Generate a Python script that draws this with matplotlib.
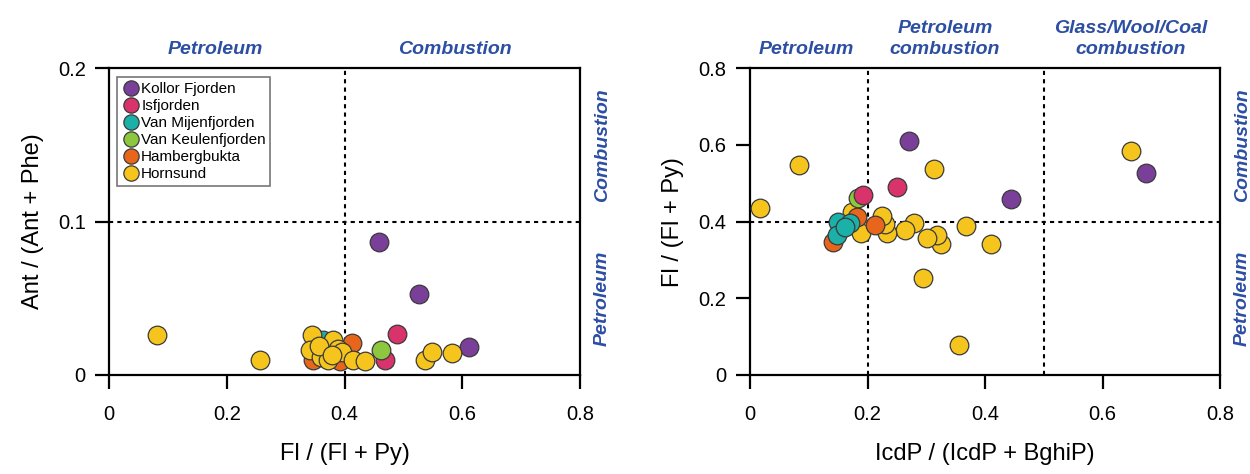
import matplotlib.pyplot as plt
from matplotlib.lines import Line2D

plt.rcParams['font.family'] = ['Liberation Sans', 'DejaVu Sans']

sites = ['Kollor Fjorden', 'Isfjorden', 'Van Mijenfjorden', 'Van Keulenfjorden',
         'Hambergbukta', 'Hornsund']
colors = ['#7a3f99', '#d8336b', '#1bb0a8', '#8dc63f', '#e8661c', '#f6c51d']

# left panel: Fl/(Fl+Py) vs Ant/(Ant+Phe)
left_x = {
    'Kollor Fjorden': [0.458, 0.527, 0.611],
    'Isfjorden': [0.489, 0.469],
    'Van Mijenfjorden': [0.364],
    'Van Keulenfjorden': [0.462],
    'Hambergbukta': [0.412, 0.347, 0.392],
    'Hornsund': [0.081, 0.256, 0.536, 0.549, 0.582, 0.344, 0.381, 0.341, 0.360,
                 0.372, 0.389, 0.396, 0.415, 0.435, 0.356, 0.378],
}
left_y = {
    'Kollor Fjorden': [0.087, 0.053, 0.018],
    'Isfjorden': [0.027, 0.010],
    'Van Mijenfjorden': [0.023],
    'Van Keulenfjorden': [0.016],
    'Hambergbukta': [0.021, 0.010, 0.009],
    'Hornsund': [0.026, 0.010, 0.010, 0.015, 0.014, 0.026, 0.023, 0.016, 0.012,
                 0.010, 0.017, 0.015, 0.010, 0.009, 0.019, 0.013],
}

# right panel: IcdP/(IcdP+BghiP) vs Fl/(Fl+Py)
right_x = {
    'Kollor Fjorden': [0.271, 0.445, 0.674],
    'Isfjorden': [0.250, 0.192],
    'Van Mijenfjorden': [0.150, 0.170, 0.148, 0.162],
    'Van Keulenfjorden': [0.183],
    'Hambergbukta': [0.212, 0.182, 0.141],
    'Hornsund': [0.648, 0.084, 0.017, 0.314, 0.368, 0.411, 0.295, 0.355, 0.325,
                 0.318, 0.301, 0.279, 0.263, 0.233, 0.230, 0.224, 0.189, 0.174],
}
right_y = {
    'Kollor Fjorden': [0.611, 0.458, 0.528],
    'Isfjorden': [0.490, 0.470],
    'Van Mijenfjorden': [0.400, 0.396, 0.365, 0.386],
    'Van Keulenfjorden': [0.461],
    'Hambergbukta': [0.391, 0.413, 0.348],
    'Hornsund': [0.584, 0.548, 0.435, 0.537, 0.389, 0.342, 0.254, 0.077, 0.341,
                 0.365, 0.357, 0.397, 0.378, 0.371, 0.394, 0.415, 0.371, 0.424],
}

left_order = ['Kollor Fjorden', 'Isfjorden', 'Hambergbukta', 'Van Mijenfjorden',
              'Van Keulenfjorden', 'Hornsund']
right_order = ['Hornsund', 'Hambergbukta', 'Van Mijenfjorden', 'Van Keulenfjorden',
               'Isfjorden', 'Kollor Fjorden']

blue = '#2c4ea3'
lab_font = dict(color=blue, fontsize=14, fontweight='bold', fontstyle='italic')

fig = plt.figure(figsize=(12.5, 4.74), dpi=100)
ax1 = fig.add_axes([0.0874, 0.209, 0.3766, 0.647])
ax2 = fig.add_axes([0.600, 0.209, 0.376, 0.647])


def scatter(ax, xs, ys, order):
    for i, s in enumerate(order):
        c = colors[sites.index(s)]
        ax.scatter(xs[s], ys[s], s=180, c=c, edgecolors='#3a3a3a', linewidths=0.9,
                   zorder=3 + i)


def style(ax):
    for sp in ax.spines.values():
        sp.set_linewidth(1.6)
    ax.tick_params(direction='out', length=10, width=1.6, labelsize=14.5)
    ax.tick_params(axis='x', pad=12)
    ax.tick_params(axis='y', pad=7)


scatter(ax1, left_x, left_y, left_order)
ax1.set_xlim(0, 0.8)
ax1.set_ylim(0, 0.2)
ax1.set_xticks([0, 0.2, 0.4, 0.6, 0.8])
ax1.set_xticklabels(['0', '0.2', '0.4', '0.6', '0.8'])
ax1.set_yticks([0, 0.1, 0.2])
ax1.set_yticklabels(['0', '0.1', '0.2'])
ax1.axvline(0.4, color='k', ls=(0, (2, 2)), lw=1.5, zorder=1)
ax1.axhline(0.1, color='k', ls=(0, (2, 2)), lw=1.5, zorder=1)
ax1.set_xlabel('Fl / (Fl + Py)', fontsize=17, labelpad=13)
ax1.set_ylabel('Ant / (Ant + Phe)', fontsize=17, labelpad=10)
style(ax1)

handles = [Line2D([], [], ls='none', marker='o', markersize=11, markerfacecolor=c,
                  markeredgecolor='#3a3a3a', markeredgewidth=0.9) for c in colors]
leg = ax1.legend(handles, sites, loc='upper left', fontsize=11, handletextpad=0.0,
                 labelspacing=0.2, borderpad=0.3, fancybox=False, framealpha=1,
                 handlelength=1.3, borderaxespad=0, bbox_to_anchor=(0.016, 0.97))
leg.get_frame().set_edgecolor('#777777')
leg.get_frame().set_linewidth(1.2)

ax1.text(0.225, 1.035, 'Petroleum', transform=ax1.transAxes, ha='center', va='bottom', **lab_font)
ax1.text(0.735, 1.035, 'Combustion', transform=ax1.transAxes, ha='center', va='bottom', **lab_font)
ax1.text(1.03, 0.75, 'Combustion', transform=ax1.transAxes, ha='left', va='center',
         rotation=90, **lab_font)
ax1.text(1.03, 0.25, 'Petroleum', transform=ax1.transAxes, ha='left', va='center',
         rotation=90, **lab_font)

scatter(ax2, right_x, right_y, right_order)
ax2.set_xlim(0, 0.8)
ax2.set_ylim(0, 0.8)
ax2.set_xticks([0, 0.2, 0.4, 0.6, 0.8])
ax2.set_xticklabels(['0', '0.2', '0.4', '0.6', '0.8'])
ax2.set_yticks([0, 0.2, 0.4, 0.6, 0.8])
ax2.set_yticklabels(['0', '0.2', '0.4', '0.6', '0.8'])
ax2.axvline(0.2, color='k', ls=(0, (2, 2)), lw=1.5, zorder=1)
ax2.axvline(0.5, color='k', ls=(0, (2, 2)), lw=1.5, zorder=1)
ax2.axhline(0.4, color='k', ls=(0, (2, 2)), lw=1.5, zorder=1)
ax2.set_xlabel('IcdP / (IcdP + BghiP)', fontsize=17, labelpad=13)
ax2.set_ylabel('Fl / (Fl + Py)', fontsize=17, labelpad=10)
style(ax2)

ax2.text(0.12, 1.035, 'Petroleum', transform=ax2.transAxes, ha='center', va='bottom', **lab_font)
ax2.text(0.415, 1.035, 'Petroleum\ncombustion', transform=ax2.transAxes, ha='center',
         va='bottom', linespacing=1.3, **lab_font)
ax2.text(0.81, 1.035, 'Glass/Wool/Coal\ncombustion', transform=ax2.transAxes, ha='center',
         va='bottom', linespacing=1.3, **lab_font)
ax2.text(1.03, 0.75, 'Combustion', transform=ax2.transAxes, ha='left', va='center',
         rotation=90, **lab_font)
ax2.text(1.03, 0.25, 'Petroleum', transform=ax2.transAxes, ha='left', va='center',
         rotation=90, **lab_font)

fig.savefig('out.png', dpi=100)
